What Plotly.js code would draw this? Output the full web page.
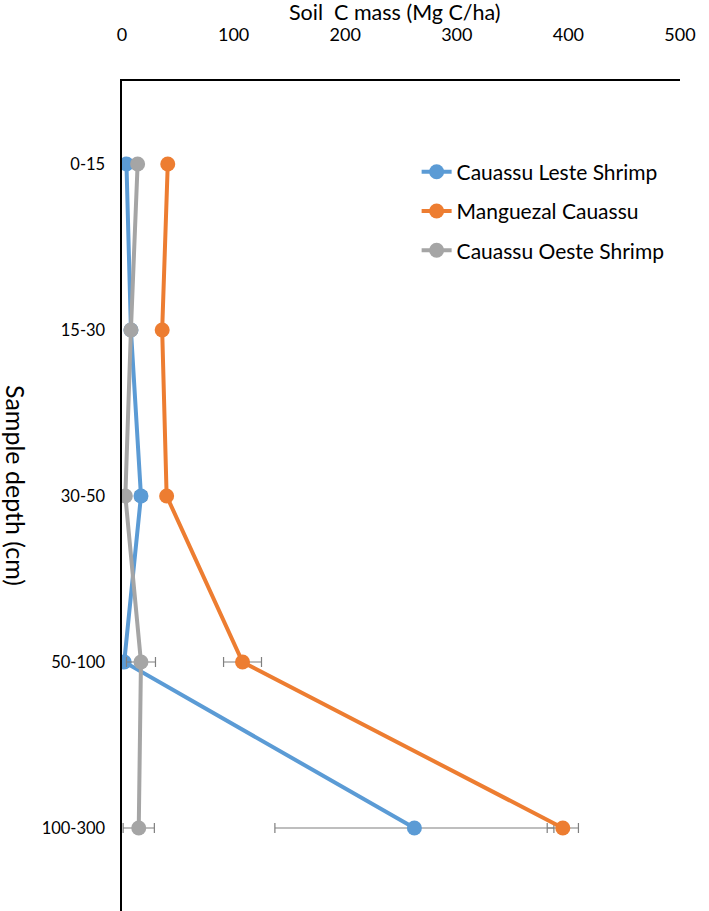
<!DOCTYPE html>
<html>
<head>
<meta charset="utf-8">
<script src="https://cdn.plot.ly/plotly-3.0.1.min.js"></script>
<style>html,body{margin:0;padding:0;background:#fff;}#chart{width:709px;height:911px;}</style>
</head>
<body>
<div id="chart"></div>
<script>
const depths = ['0-15', '15-30', '30-50', '50-100', '100-300'];
const seriesNames = ['Cauassu Leste Shrimp', 'Manguezal Cauassu', 'Cauassu Oeste Shrimp'];
const lesteValues = [4, 8, 17, 2, 262];
const lesteErrors = [0, 0, 5, 0, 125];
const manguezalValues = [41, 36, 40, 108, 395];
const manguezalErrors = [0, 0, 0, 17, 14];
const oesteValues = [14, 8, 3, 17, 15];
const oesteErrors = [0, 0, 0, 13, 14];
const xTicks = [0, 100, 200, 300, 400, 500];

const colors = ['#5B9BD5', '#ED7D31', '#A5A5A5'];
const vals = [lesteValues, manguezalValues, oesteValues];
const errs = [lesteErrors, manguezalErrors, oesteErrors];

const traces = vals.map((v, i) => ({
  type: 'scatter',
  mode: 'lines+markers',
  name: seriesNames[i],
  legendgroup: 'g' + i,
  x: v,
  y: depths,
  line: {color: colors[i], width: 4},
  marker: {color: colors[i], size: 15},
  error_x: {type: 'data', array: errs[i], visible: true, color: '#7F7F7F', thickness: 1.2, width: 5}
}));

const layout = {
  width: 709, height: 911,
  margin: {l: 122, r: 29, t: 81, b: 0},
  paper_bgcolor: '#fff', plot_bgcolor: '#fff',
  font: {family: 'Lato, "Open Sans", sans-serif', color: '#000', size: 17},
  showlegend: true,
  legend: {x: 0.528, y: 0.915, xanchor: 'left', yanchor: 'top', font: {size: 21, color: '#000'},
           traceorder: 'grouped', tracegroupgap: 9, bgcolor: 'rgba(0,0,0,0)'},
  xaxis: {side: 'top', range: [0, 500], tickvals: xTicks, ticktext: xTicks.map(String),
          showgrid: false, zeroline: false, showline: true, linecolor: '#000', linewidth: 2,
          ticks: '', ticklabelstandoff: 31, tickfont: {size: 18}},
  yaxis: {type: 'category', categoryarray: depths, range: [4.5, -0.5],
          showgrid: false, zeroline: false, showline: true, linecolor: '#000', linewidth: 2.5,
          ticks: '', ticklabelstandoff: 11, tickfont: {size: 16.5}},
  annotations: [
    {text: 'Soil  C mass (Mg C/ha)', xref: 'paper', yref: 'paper', x: 0.49, y: 1,
     xanchor: 'center', yanchor: 'middle', yshift: 69, showarrow: false, font: {size: 21.5}},
    {text: 'Sample depth (cm)', textangle: 90, xref: 'paper', yref: 'paper',
     x: -0.19, y: 0.512, xanchor: 'center', yanchor: 'middle', showarrow: false,
     font: {size: 25}}]
};

Plotly.newPlot('chart', traces, layout, {displayModeBar: false, staticPlot: true});
</script>
</body>
</html>
